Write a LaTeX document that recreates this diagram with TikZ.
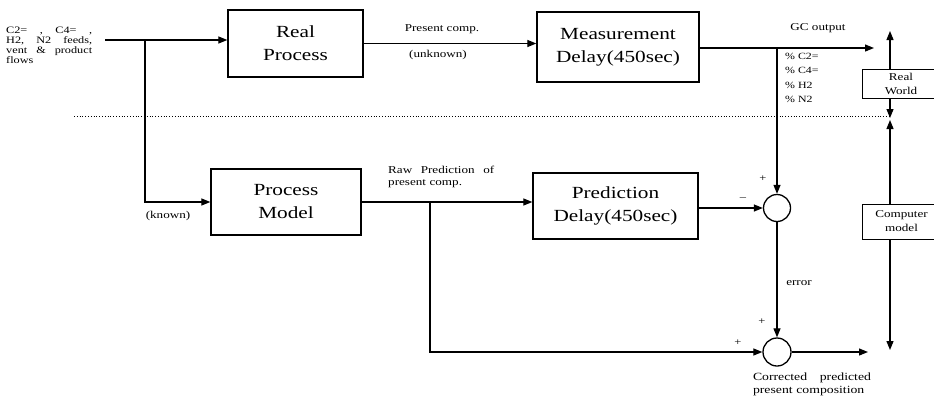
\documentclass[tikz,border=0pt]{standalone}
\usepackage{fontspec}
\setmainfont{Liberation Serif}[FakeStretch=1.25]
\usetikzlibrary{arrows.meta}

\begin{document}
\begin{tikzpicture}
    [ x = 1pt, y = -1pt
    , > = {Triangle[length=9pt,width=7pt]}
    , block/.style =
      { draw, line width=1.3pt, inner sep=0pt, align=center
      , font=\fontsize{17}{23}\selectfont }
    , side/.style =
      { draw, line width=1pt, inner sep=1pt, align=center
      , minimum width=78pt, font=\fontsize{10.5}{14}\selectfont }
    , sum/.style =
      { draw, circle, line width=1.3pt, inner sep=0pt, minimum size=27pt }
    , edge/.style =
      { line width=1.2pt }
    , note/.style =
      { inner sep=0pt, font=\fontsize{10.5}{11.5}\selectfont }
    , sign/.style =
      { inner sep=0pt, font=\fontsize{10}{10}\selectfont }
    ]
    \useasboundingbox (0,0) rectangle (934,399);
    \clip (0,0) rectangle (934,399);

    \node [block, minimum width=135pt, minimum height=67pt] (real) at (295.5,43.5) {Real\\Process};
    \node [block, minimum width=162pt, minimum height=70pt] (meas) at (618,47) {Measurement\\Delay(450sec)};
    \node [block, minimum width=150pt, minimum height=66pt] (model) at (286,202) {Process\\Model};
    \node [block, minimum width=165pt, minimum height=66pt] (pred) at (615.5,206) {Prediction\\Delay(450sec)};
    \node [sum] (err) at (777,208) {};
    \node [sum, minimum size=28pt] (corr) at (777,352) {};
    \node [side, minimum height=29pt] (world) at (901,83.5) {Real\\World};
    \node [side, minimum height=35pt] (comp) at (901.5,221.5) {Computer\\model};

    \node [note, anchor=north west, text width=86pt, align=left, font={\fontsize{9.8}{10}\selectfont\lineskiplimit=-9pt}] (feeds) at (6,27)
      {C2=\hfill,\hfill C4=\hfill,\\H2,\hfill N2\hfill feeds,\\vent\hfill\&\hfill product\\flows};
    \node [note] (present) at (442,29) {Present comp.};
    \node [note] (unknown) at (438,55) {(unknown)};
    \node [note] (known) at (168,216) {(known)};
    \node [note, anchor=north west, text width=106pt, align=left] (raw) at (388,166)
      {Raw\hfill Prediction\hfill of\\present comp.};
    \node [note] (gcout) at (818,28) {GC output};
    \node [note, anchor=north west, align=left, font=\fontsize{9.5}{14.3}\selectfont] (pct) at (785,53)
      {\% C2=\\\% C4=\\\% H2\\\% N2};
    \node [note] (error) at (799,283) {error};
    \node [note, text width=118pt, align=left, font=\fontsize{11}{13}\selectfont] (corrtext) at (812,384)
      {Corrected\hfill predicted\\present composition};
    \node [sign] (errplus) at (763,179) {+};
    \node [sign] (errminus) at (743,199) {\textendash};
    \node [sign] (corrplus) at (762,322) {+};
    \node [sign] (tapplus) at (738,343) {+};

    \coordinate (in) at (105,40);
    \coordinate (split) at (145,40);
    \coordinate (tap) at (430,202);
    \coordinate (gc) at (874,48);
    \coordinate (out) at (868,352);
    \coordinate (meet) at (890,119);
    \coordinate (up) at (890,31);
    \coordinate (down) at (890,350);
    \coordinate (sep) at (74,116);

    \draw [edge,->] (in) -- (in -| real.west);
    \draw [edge,->] (split) |- (model.west);
    \draw [edge,->] (real.east) -- (real.east -| meas.west);
    \draw [edge,->] (meas.east |- gc) -- (gc);
    \draw [edge,->] (err.north |- gc) -- (err.north);
    \draw [edge,->] (model.east) -- (model.east -| pred.west);
    \draw [edge,->] (tap) |- (corr.west);
    \draw [edge,->] (pred.east |- err) -- (err.west);
    \draw [edge,->] (err.south) -- (corr.north);
    \draw [edge,->] (corr.east) -- (out);
    \draw [edge,->] (world.north -| meet) -- (up);
    \draw [edge,->] (world.south -| meet) -- ([yshift=1pt]meet);
    \draw [edge,->] (comp.north -| meet) -- ([yshift=-1pt]meet);
    \draw [edge,->] (comp.south -| meet) -- (down);
    \draw [dotted, line width=.8pt] (sep) -- (sep -| meet);
  \end{tikzpicture}
\end{document}
